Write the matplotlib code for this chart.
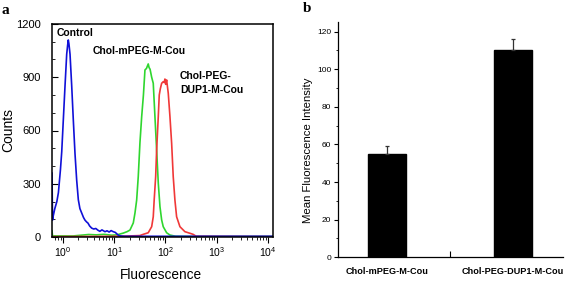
import numpy as np
import matplotlib
matplotlib.use("Agg")
import matplotlib.pyplot as plt
from matplotlib.ticker import FixedLocator, LogLocator, NullFormatter, MultipleLocator

plt.rcParams['font.family'] = ['Liberation Sans', 'DejaVu Sans']

# ---- panel a: flow cytometry histograms (log10 fluorescence, counts) ----
blue_logx = [-0.215, -0.205, -0.19, -0.16, -0.12, -0.09, -0.05, -0.025, 0.006, 0.039,
             0.072, 0.09, 0.103, 0.115, 0.137, 0.17, 0.201, 0.234, 0.267, 0.299,
             0.33, 0.365, 0.40, 0.429, 0.46, 0.488, 0.52, 0.56, 0.60, 0.64,
             0.683, 0.72, 0.76, 0.82, 0.86, 0.90, 0.94, 0.98, 1.02, 1.05,
             1.08, 1.12, 1.2, 1.5, 2.0, 2.5, 3.0, 3.5, 4.1]
blue_counts = [360, 95, 120, 160, 200, 250, 380, 480, 660, 850,
               1030, 1080, 1110, 1090, 1030, 850, 660, 470, 320, 210,
               160, 135, 110, 95, 85, 78, 62, 50, 45, 48,
               38, 32, 40, 30, 35, 28, 36, 30, 26, 18,
               10, 6, 4, 4, 4, 4, 4, 4, 4]

green_logx = [-0.215, -0.205, 0.2, 0.35, 0.5, 0.65, 0.8, 0.95, 1.05, 1.177,
              1.25, 1.307, 1.372, 1.405, 1.438, 1.469, 1.502, 1.536, 1.57, 1.60,
              1.63, 1.664, 1.68, 1.70, 1.731, 1.762, 1.795, 1.828, 1.86, 1.893,
              1.926, 1.957, 2.023, 2.088, 2.2, 2.5, 4.1]
green_counts = [35, 6, 6, 10, 14, 12, 15, 10, 12, 22,
                30, 39, 79, 135, 208, 340, 530, 678, 800, 941,
                950, 975, 955, 945, 900, 866, 678, 490, 304, 171,
                96, 58, 24, 11, 4, 3, 3]

red_logx = [-0.215, 0.5, 1.0, 1.3, 1.5, 1.567, 1.664, 1.731, 1.762, 1.78,
            1.809, 1.828, 1.86, 1.879, 1.90, 1.926, 1.957, 1.975, 1.99, 2.005,
            2.023, 2.055, 2.088, 2.121, 2.152, 2.185, 2.218, 2.283, 2.38, 2.478,
            2.54, 2.6, 4.1]
red_counts = [2, 3, 4, 6, 8, 15, 24, 58, 114, 208,
              340, 490, 678, 800, 835, 866, 875, 870, 890, 860,
              885, 810, 678, 528, 340, 208, 114, 58, 30, 21,
              15, 4, 2]

count_ticks = [0, 300, 600, 900, 1200]

# ---- panel b: mean fluorescence intensity ----
groups = ['Chol-mPEG-M-Cou', 'Chol-PEG-DUP1-M-Cou']
mfi = [55, 110]
mfi_err = [4.3, 6.0]
mfi_ticks = [0, 20, 40, 60, 80, 100, 120]

W, H = 572, 283
fig = plt.figure(figsize=(W / 100, H / 100), dpi=100)

# ---------------- panel a ----------------
ax1 = fig.add_axes([52 / W, 1 - 237 / H, 221 / W, 213 / H])
ax1.plot(10 ** np.array(green_logx), green_counts, color='#2fd62f', lw=1.2)
ax1.plot(10 ** np.array(red_logx), red_counts, color='#f03838', lw=1.2)
ax1.plot(10 ** np.array(blue_logx), blue_counts, color='#1010d8', lw=1.2)
ax1.set_xscale('log')
ax1.set_xlim(10 ** -0.215, 10 ** 4.1)
ax1.set_ylim(0, 1200)
ax1.xaxis.set_major_locator(FixedLocator([1, 10, 100, 1000, 10000]))
ax1.xaxis.set_minor_locator(LogLocator(base=10, subs=np.arange(2, 10)))
ax1.xaxis.set_minor_formatter(NullFormatter())
ax1.set_yticks(count_ticks)
ax1.yaxis.set_minor_locator(MultipleLocator(100))
ax1.tick_params(axis='x', which='major', direction='out', length=4, width=0.8,
                labelsize=7.5, pad=2)
ax1.tick_params(axis='x', which='minor', direction='out', length=2.2, width=0.6)
ax1.tick_params(axis='y', which='major', direction='in', length=4, width=0.8,
                labelsize=8, pad=8)
ax1.tick_params(axis='y', which='minor', direction='in', length=2.2, width=0.6)
for s in ax1.spines.values():
    s.set_linewidth(1.1)
ax1.set_ylabel('Counts', fontsize=10)
ax1.yaxis.set_label_coords(-0.167, 0.502)
fig.text(161 / W, 1 - 275 / H, 'Fluorescence', fontsize=9.8, ha='center', va='center')

ax1.text(0.023, 0.960, 'Control', transform=ax1.transAxes, fontsize=7.5,
         fontweight='bold', ha='left', va='center')
ax1.text(0.186, 0.873, 'Chol-mPEG-M-Cou', transform=ax1.transAxes, fontsize=7.5,
         fontweight='bold', ha='left', va='center')
ax1.text(0.579, 0.723, 'Chol-PEG-\nDUP1-M-Cou', transform=ax1.transAxes, fontsize=7.5,
         fontweight='bold', ha='left', va='center', linespacing=1.45)

fig.text(2 / W, 1 - 4 / H, 'a', family=['Liberation Serif'], fontweight='bold',
         fontsize=11, ha='left', va='top')

# ---------------- panel b ----------------
ax2 = fig.add_axes([338.3 / W, 1 - 257.3 / H, 224.7 / W, 235.1 / H])
pos = np.arange(1, len(groups) + 1)
ax2.bar(pos, mfi, width=0.3, color='black', edgecolor='black')
ax2.errorbar(pos, mfi, yerr=[np.zeros(len(mfi)), mfi_err], fmt='none',
             ecolor='#333333', elinewidth=0.9, capsize=1.6, capthick=0.9)
ax2.set_xlim(0.614, 2.397)
ax2.set_ylim(0, 125)
ax2.set_yticks(mfi_ticks)
ax2.yaxis.set_minor_locator(MultipleLocator(10))
ax2.set_xticks(pos)
ax2.set_xticklabels(groups, fontsize=6.6, fontweight='bold')
ax2.set_xticks([1.5], minor=True)
ax2.tick_params(axis='x', which='major', length=0, pad=7)
ax2.tick_params(axis='x', which='minor', direction='in', length=4, width=0.8)
ax2.tick_params(axis='y', which='major', direction='out', length=3, width=0.8,
                labelsize=6, pad=2)
ax2.tick_params(axis='y', which='minor', direction='out', length=1.8, width=0.6)
ax2.spines['top'].set_visible(False)
ax2.spines['right'].set_visible(False)
ax2.spines['left'].set_linewidth(0.9)
ax2.spines['bottom'].set_linewidth(0.9)
ax2.set_ylabel('Mean Fluorescence Intensity', fontsize=8.2)
ax2.yaxis.set_label_coords(-0.113, 0.456)

fig.text(303 / W, 1 - 2 / H, 'b', family=['Liberation Serif'], fontweight='bold',
         fontsize=11, ha='left', va='top')

fig.savefig('out.png', dpi=100)
